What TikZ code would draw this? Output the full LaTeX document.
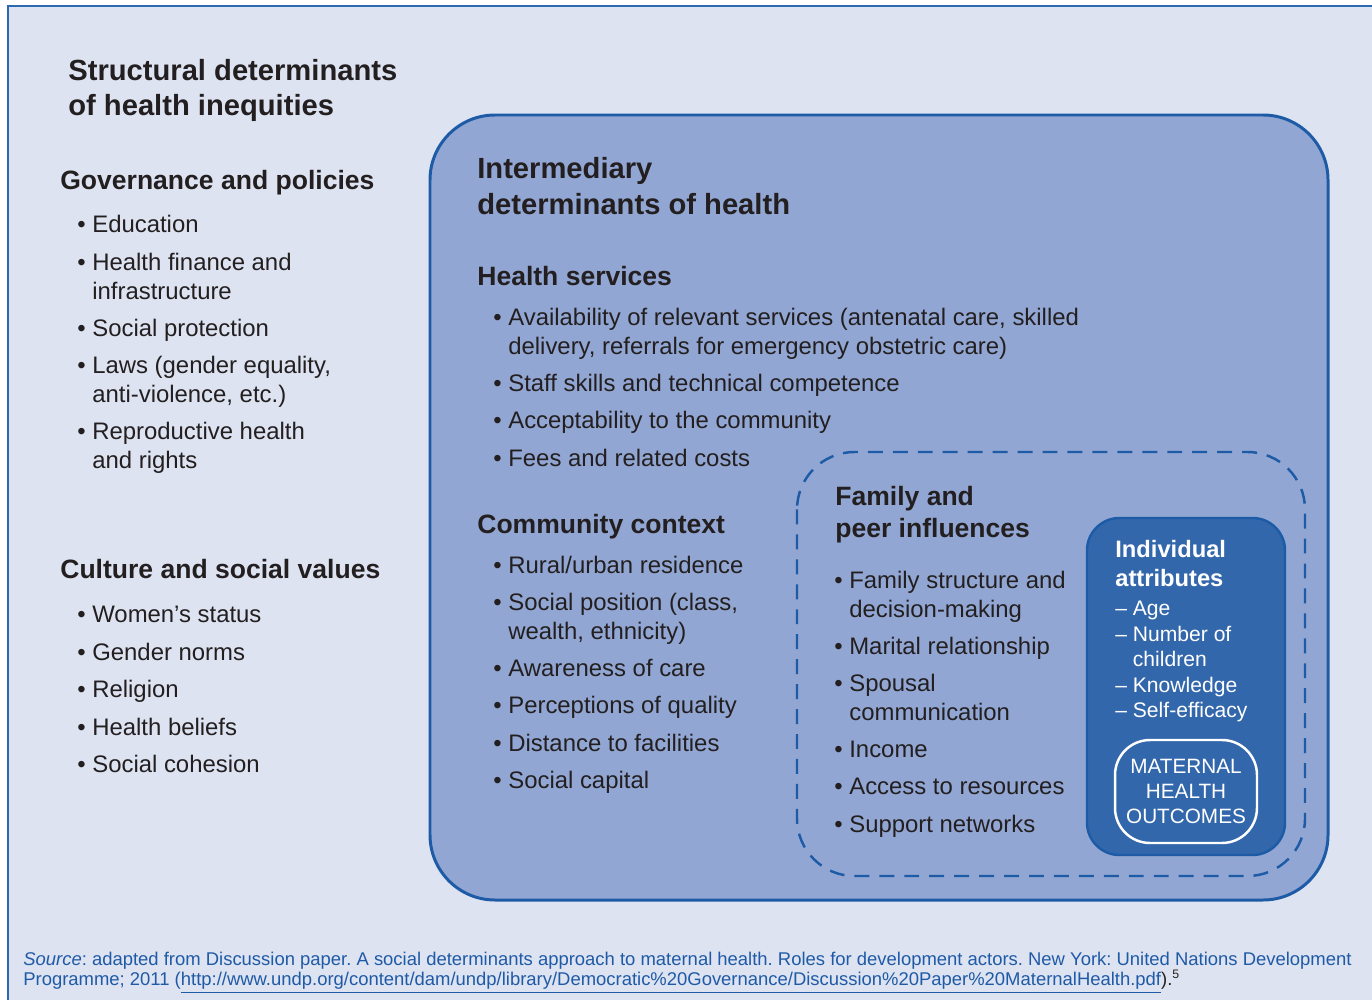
\documentclass[tikz,border=0pt]{standalone}
\usepackage{fontspec}
\setmainfont{Liberation Sans}

\definecolor{pagebg}{HTML}{DDE3F1}
\definecolor{frameblue}{HTML}{2C69B0}
\definecolor{interfill}{HTML}{91A6D2}
\definecolor{interline}{HTML}{1D5BA6}
\definecolor{indivfill}{HTML}{3367AC}
\definecolor{darktext}{HTML}{231F20}
\definecolor{srcblue}{HTML}{1F5AA6}

\newcommand{\itembullet}{\llap{\textbullet\ }}
\newcommand{\bodyfont}{\fontsize{13.6}{16.2}\selectfont}

\begin{document}
\frenchspacing
\begin{tikzpicture}[x=0.02cm,y=-0.02cm]
        % Define styles for shapes
        \tikzstyle{titletext} = [anchor=north west, inner sep=0pt, align=left, text=darktext, font=\fontsize{16.6}{20.1}\selectfont\bfseries]
        \tikzstyle{headtext} = [anchor=north west, inner sep=0pt, align=left, text=darktext, font=\fontsize{15.1}{18.1}\selectfont\bfseries]
        \tikzstyle{bitem} = [anchor=north west, inner sep=0pt, align=left, text=darktext, font=\bodyfont]
        \tikzstyle{outcome} = [draw=white, line width=1.4pt, rounded corners=0.7cm, minimum width=2.84cm, minimum height=2.06cm, align=center, inner sep=0pt, text=white, font=\fontsize{11.8}{14.2}\selectfont]

        \useasboundingbox (0,0) rectangle (1372,1000);

        % Background and boxes
        \draw[line width=1.1pt, draw=frameblue, fill=pagebg] (8,6) rectangle (1420,1050);
        \draw[line width=1.7pt, draw=interline, fill=interfill, rounded corners=1.3cm] (430,115) rectangle (1328,900);
        \draw[line width=1.4pt, draw=interline, dash pattern=on 8.5pt off 5.7pt, rounded corners=1.15cm] (797,452) rectangle (1305,876);
        \draw[line width=1.4pt, draw=interline, fill=indivfill, rounded corners=0.65cm] (1087,518) rectangle (1285,855);

        % Structural determinants
        \node[titletext] (title) at (68,59) {Structural determinants\\of health inequities};

        \node[headtext] (govhead) at (60,170) {Governance and policies};
        \node[bitem] (gov1) at (92,215) {\itembullet Education};
        \node[bitem] (gov2) at (92,253) {\itembullet Health finance and\\infrastructure};
        \node[bitem] (gov3) at (92,319) {\itembullet Social protection};
        \node[bitem] (gov4) at (92,356) {\itembullet Laws (gender equality,\\anti-violence, etc.)};
        \node[bitem] (gov5) at (92,422) {\itembullet Reproductive health\\and rights};

        \node[headtext] (culhead) at (60,559) {Culture and social values};
        \node[bitem] (cul1) at (92,606) {\itembullet Women’s status};
        \node[bitem] (cul2) at (92,643) {\itembullet Gender norms};
        \node[bitem] (cul3) at (92,680) {\itembullet Religion};
        \node[bitem] (cul4) at (92,718) {\itembullet Health beliefs};
        \node[bitem] (cul5) at (92,755) {\itembullet Social cohesion};

        % Intermediary determinants
        \node[titletext, font=\fontsize{16.6}{20.4}\selectfont\bfseries] (inter) at (477,157) {Intermediary\\determinants of health};

        \node[headtext] (hshead) at (477,266) {Health services};
        \node[bitem] (hs1) at (508,308) {\itembullet Availability of relevant services (antenatal care, skilled\\delivery, referrals for emergency obstetric care)};
        \node[bitem] (hs2) at (508,374) {\itembullet Staff skills and technical competence};
        \node[bitem] (hs3) at (508,411) {\itembullet Acceptability to the community};
        \node[bitem] (hs4) at (508,449) {\itembullet Fees and related costs};

        \node[headtext] (cchead) at (477,514) {Community context};
        \node[bitem] (cc1) at (508,556) {\itembullet Rural/urban residence};
        \node[bitem] (cc2) at (508,593) {\itembullet Social position (class,\\wealth, ethnicity)};
        \node[bitem] (cc3) at (508,659) {\itembullet Awareness of care};
        \node[bitem] (cc4) at (508,696) {\itembullet Perceptions of quality};
        \node[bitem] (cc5) at (508,734) {\itembullet Distance to facilities};
        \node[bitem] (cc6) at (508,771) {\itembullet Social capital};

        % Family and peer influences
        \node[headtext] (fphead) at (835,486) {Family and\\peer influences};
        \node[bitem] (fp1) at (849,571) {\itembullet Family structure and\\decision-making};
        \node[bitem] (fp2) at (849,637) {\itembullet Marital relationship};
        \node[bitem] (fp3) at (849,674) {\itembullet Spousal\\communication};
        \node[bitem] (fp4) at (849,741) {\itembullet Income};
        \node[bitem] (fp5) at (849,778) {\itembullet Access to resources};
        \node[bitem] (fp6) at (849,815) {\itembullet Support networks};

        % Individual attributes
        \node[headtext, text=white, font=\fontsize{13.5}{16.4}\selectfont\bfseries] (indhead) at (1115,540) {Individual\\attributes};
        \node[bitem, text=white, font=\fontsize{12}{14.5}\selectfont] (ind) at (1115,601) {– Age\\– Number of\\\phantom{– }children\\– Knowledge\\– Self-efficacy};
        \node[outcome] (mho) at (1186,791.5) {MATERNAL\\HEALTH\\OUTCOMES};

        % Source
        \node[anchor=north west, inner sep=0pt, align=left, text=srcblue, font=\fontsize{10.5}{11.3}\selectfont] (source) at (23,952) {\textit{Source}: adapted from Discussion paper. A social determinants approach to maternal health. Roles for development actors. New York: United Nations Development\\Programme; 2011 (\underline{http://www.undp.org/content/dam/undp/library/Democratic\%20Governance/Discussion\%20Paper\%20MaternalHealth.pdf}\textcolor{darktext}{).\textsuperscript{\scriptsize 5}}};
    \end{tikzpicture}
\end{document}
